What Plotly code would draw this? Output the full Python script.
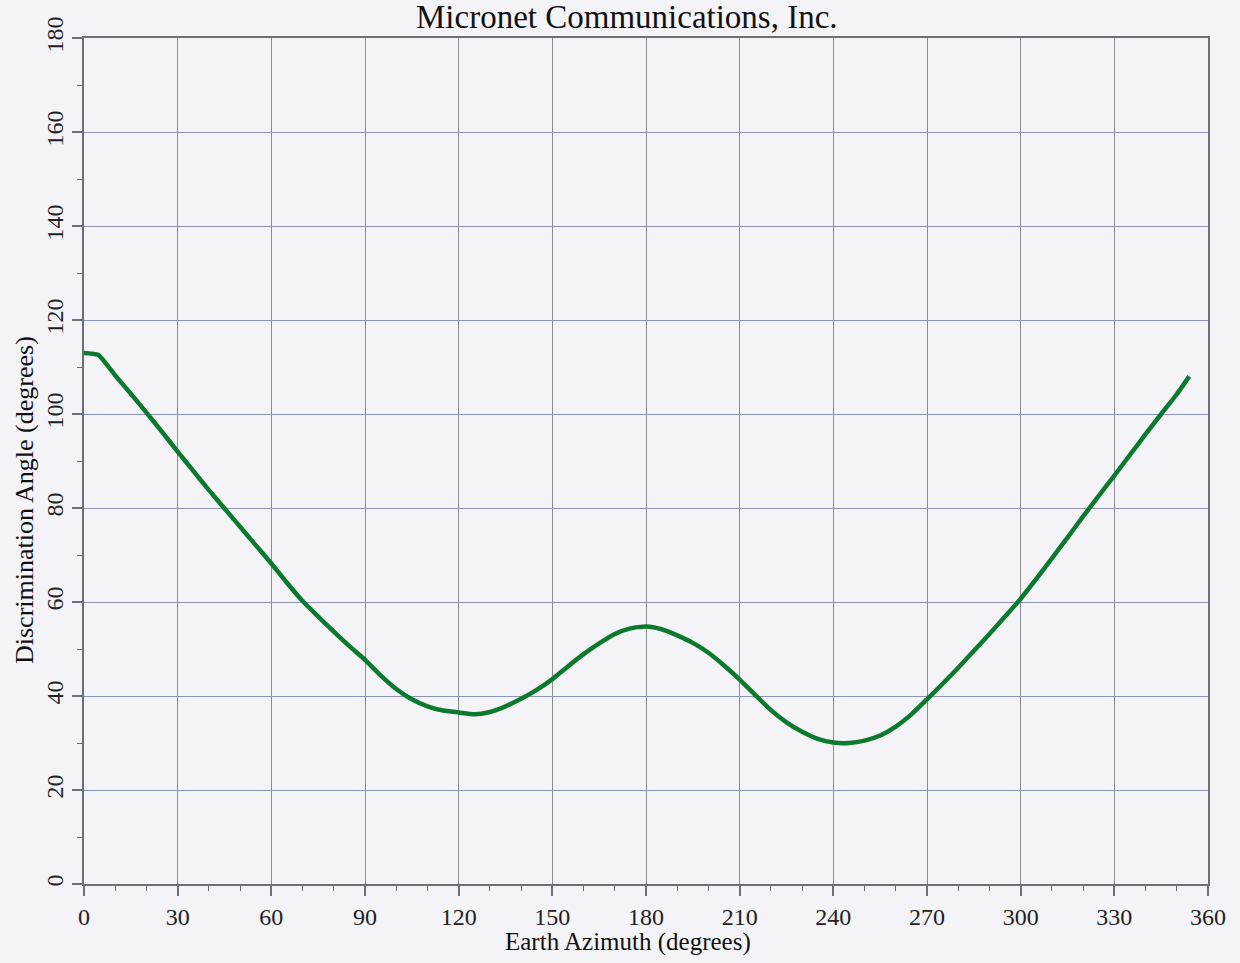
import plotly.graph_objects as go

# Data
azimuth = [0, 4.5, 10, 15, 20, 25, 30, 35, 40, 45, 50, 55, 60, 65, 70, 75, 80, 85, 90, 95,
           100, 105, 110, 115, 120, 125, 130, 135, 140, 145, 150, 155, 160, 165, 170, 175,
           180, 185, 190, 195, 200, 205, 210, 215, 220, 225, 230, 235, 240, 245, 250, 255,
           260, 265, 270, 275, 280, 285, 290, 295, 300, 305, 310, 315, 320, 325, 330, 335,
           340, 345, 350, 354]
angle = [113.0, 112.6, 108.2, 104.3, 100.3, 96.2, 92.0, 87.9, 83.8, 79.9, 76.0, 72.1, 68.2,
         64.1, 60.2, 56.9, 53.7, 50.6, 47.7, 44.4, 41.5, 39.3, 37.8, 36.9, 36.5, 36.1, 36.6,
         37.8, 39.4, 41.3, 43.6, 46.3, 48.9, 51.2, 53.2, 54.4, 54.8, 54.2, 52.9, 51.3, 49.2,
         46.5, 43.5, 40.2, 37.0, 34.4, 32.4, 30.9, 30.1, 30.0, 30.5, 31.6, 33.5, 36.1, 39.3,
         42.6, 46.0, 49.6, 53.2, 56.9, 60.7, 64.9, 69.3, 73.7, 78.2, 82.6, 86.9, 91.3, 95.7,
         100.0, 104.2, 108.0]

x_ticks = [0, 30, 60, 90, 120, 150, 180, 210, 240, 270, 300, 330, 360]
y_ticks = [0, 20, 40, 60, 80, 100, 120, 140, 160, 180]

title_text = "Micronet Communications, Inc."
x_title = "Earth Azimuth (degrees)"
y_title = "Discrimination Angle (degrees)"

FONT = "Liberation Serif"
BG = "#f3f3f8"

fig = go.Figure()
fig.add_trace(go.Scatter(x=azimuth, y=angle, mode="lines",
                         line=dict(color="#0b7a2c", width=4.5, shape="spline", smoothing=0.5),
                         showlegend=False, hoverinfo="x+y"))

fig.update_layout(
    width=1240, height=963,
    margin=dict(l=84, r=32, t=38, b=79),
    paper_bgcolor=BG, plot_bgcolor=BG,
    font=dict(family=FONT, size=24, color="#222222"),
    showlegend=False,
)

fig.update_xaxes(
    range=[0, 360], tickvals=x_ticks, ticktext=[str(v) for v in x_ticks],
    showgrid=True, gridcolor="#8c8c96", gridwidth=1,
    showline=True, linecolor="#6e6e78", linewidth=1.5, mirror=True,
    ticks="outside", ticklen=10, tickcolor="#6e6e78", tickwidth=1.5,
    zeroline=False,
    minor=dict(dtick=10, ticks="outside", ticklen=5, tickcolor="#6e6e78", tickwidth=1.2, showgrid=False),
    tickfont=dict(family=FONT, size=24, color="#222222"),
)
fig.update_yaxes(
    range=[0, 180], tickvals=y_ticks, ticktext=[str(v) for v in y_ticks],
    showgrid=True, gridcolor="#8e93b8", gridwidth=1.3,
    showline=True, linecolor="#6e6e78", linewidth=1.5, mirror=True,
    ticks="outside", ticklen=10, tickcolor="#6e6e78", tickwidth=1.5,
    zeroline=False, tickangle=-90,
    minor=dict(dtick=10, ticks="outside", ticklen=5, tickcolor="#6e6e78", tickwidth=1.2, showgrid=False),
    tickfont=dict(family=FONT, size=24, color="#222222"),
)

fig.add_annotation(text=title_text, xref="paper", yref="paper",
                   x=(627 - 84) / 1124, y=1 + (38 + 3) / 846, xanchor="center", yanchor="top",
                   showarrow=False, font=dict(family=FONT, size=33, color="#111111"))
fig.add_annotation(text=x_title, xref="paper", yref="paper",
                   x=(628 - 84) / 1124, y=-(942 - 884) / 846, xanchor="center", yanchor="middle",
                   showarrow=False, font=dict(family=FONT, size=25, color="#111111"))
fig.add_annotation(text=y_title, xref="paper", yref="paper",
                   x=-(84 - 24) / 1124, y=(884 - 500) / 846, xanchor="center", yanchor="middle",
                   textangle=-90, showarrow=False, font=dict(family=FONT, size=26, color="#111111"))

fig.write_html("out.html", config={"displayModeBar": False},
               post_script="document.body.style.margin='0';document.body.style.background='%s';" % BG)
